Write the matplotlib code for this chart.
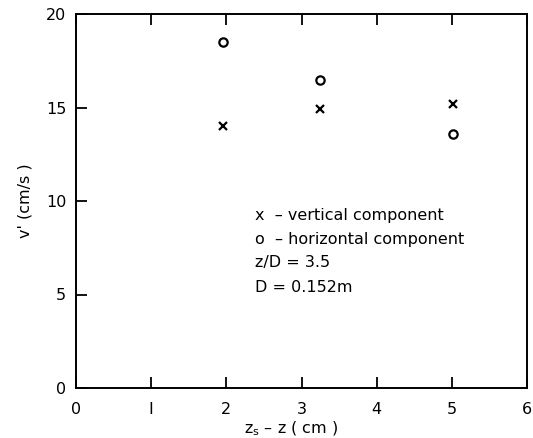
import matplotlib
matplotlib.use("Agg")
import matplotlib.pyplot as plt

x_pos = [1.95, 3.25, 5.02]
v_vertical = [14.0, 14.9, 15.2]
v_horizontal = [18.5, 16.45, 13.6]

notes = ["x  \u2013 vertical component",
         "o  \u2013 horizontal component",
         "z/D = 3.5",
         "D = 0.152m"]
note_y = [9.25, 7.95, 6.7, 5.4]

plt.rcParams['font.family'] = ['DejaVu Sans']

fig = plt.figure(figsize=(5.33, 4.38), dpi=100)
ax = fig.add_axes([76/533, 1 - 388/438, (527-76)/533, (388-14)/438])

ax.plot(x_pos, v_vertical, linestyle="none", marker="x", color="black",
        markersize=6, markeredgewidth=1.6)
ax.plot(x_pos, v_horizontal, linestyle="none", marker="o", color="black",
        markerfacecolor="none", markersize=6, markeredgewidth=1.6)

for txt, yy in zip(notes, note_y):
    ax.text(2.38, yy, txt, fontsize=11.5, va="center", ha="left")

ax.set_xlim(0, 6)
ax.set_ylim(0, 20)
ax.set_xticks([0, 1, 2, 3, 4, 5, 6])
ax.set_xticklabels(["0", "I", "2", "3", "4", "5", "6"])
ax.set_yticks([0, 5, 10, 15, 20])
ax.tick_params(direction="in", length=8, width=1.3, labelsize=11.5,
               top=True, right=False, pad=7)
ax.tick_params(axis="x", pad=10)
for s in ax.spines.values():
    s.set_linewidth(1.4)

ax.set_xlabel("$\\mathregular{z_s}$ \u2013 z ( cm )", fontsize=11.5)
ax.xaxis.set_label_coords(0.477, -0.085)
ax.set_ylabel("v' (cm/s )", fontsize=11.5, labelpad=10)

fig.savefig("out.png", dpi=100)
